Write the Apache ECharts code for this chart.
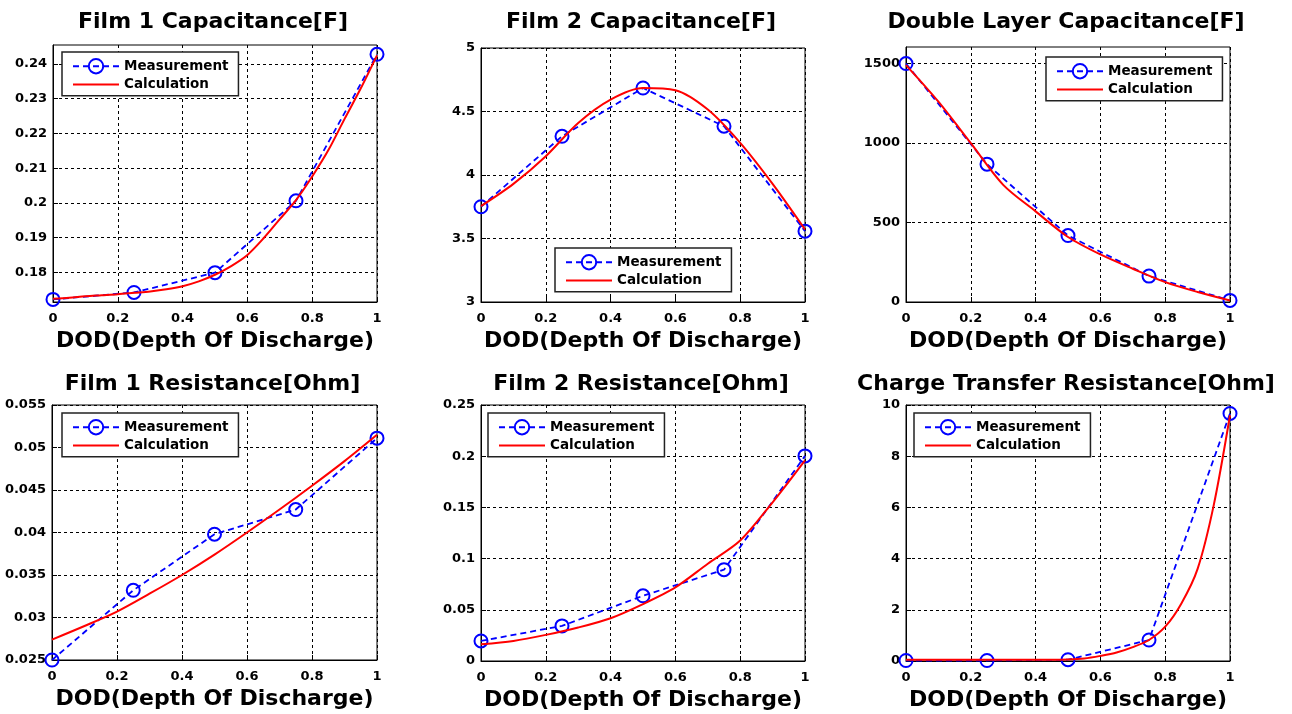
<!DOCTYPE html>
<html><head><meta charset="utf-8">
<script src="https://cdn.jsdelivr.net/npm/echarts@6/dist/echarts.min.js"></script>
<style>html,body{margin:0;padding:0;background:#fff}#c{width:1292px;height:714px}</style>
</head><body><div id="c"></div>
<script>
// ---- data ----
const dod = [0, 0.25, 0.5, 0.75, 1];
const xTicks = [0, 0.2, 0.4, 0.6, 0.8, 1];
const calcX = [0, 0.1, 0.2, 0.3, 0.4, 0.5, 0.6, 0.7, 0.8, 0.9, 1];
const calcXFine = [0, 0.05, 0.1, 0.15, 0.2, 0.25, 0.3, 0.35, 0.4, 0.45, 0.5, 0.55, 0.6, 0.65, 0.7, 0.75, 0.8, 0.85, 0.9, 0.95, 1];

const film1CapMeas = [0.1722, 0.1742, 0.1799, 0.2006, 0.2428];
const film1CapCalc = [0.1724, 0.1727, 0.1731, 0.1734, 0.1737, 0.1741, 0.1745, 0.1751, 0.1760, 0.1774, 0.1793, 0.1818, 0.1850, 0.1898, 0.1953, 0.2008, 0.2076, 0.2152, 0.2242, 0.2330, 0.2425];
const film1CapTicks = [0.18, 0.19, 0.2, 0.21, 0.22, 0.23, 0.24];

const film2CapMeas = [3.75, 4.305, 4.685, 4.384, 3.558];
const film2CapCalc = [3.755, 3.93, 4.148, 4.41, 4.594, 4.685, 4.667, 4.515, 4.253, 3.93, 3.571];
const film2CapTicks = [3, 3.5, 4, 4.5, 5];

const dlCapMeas = [1500, 867, 418, 163, 10];
const dlCapCalc = [1490, 1260, 999, 737, 570, 409, 299, 209, 125, 63, 10];
const dlCapTicks = [0, 500, 1000, 1500];

const film1ResMeas = [0.0250, 0.0332, 0.0398, 0.0427, 0.0511];
const film1ResCalc = [0.0274, 0.0290, 0.0307, 0.0328, 0.0350, 0.0374, 0.0400, 0.0427, 0.0455, 0.0484, 0.0515];
const film1ResTicks = [0.025, 0.03, 0.035, 0.04, 0.045, 0.05, 0.055];

const film2ResMeas = [0.0196, 0.0343, 0.0637, 0.0892, 0.2003];
const film2ResCalc = [0.0163, 0.0196, 0.0255, 0.0327, 0.0418, 0.0556, 0.0719, 0.0950, 0.1176, 0.1550, 0.1960];
const film2ResTicks = [0, 0.05, 0.1, 0.15, 0.2, 0.25];

const ctResMeas = [0.02, 0.02, 0.05, 0.82, 9.67];
const ctResCalc = [0.05, 0.05, 0.05, 0.05, 0.05, 0.05, 0.05, 0.05, 0.05, 0.05, 0.06, 0.1, 0.2, 0.33, 0.54, 0.82, 1.34, 2.25, 3.6, 6.1, 9.6];
const ctResTicks = [0, 2, 4, 6, 8, 10];

const titles = ['Film 1 Capacitance[F]', 'Film 2 Capacitance[F]', 'Double Layer Capacitance[F]',
  'Film 1 Resistance[Ohm]', 'Film 2 Resistance[Ohm]', 'Charge Transfer Resistance[Ohm]'];
const xName = 'DOD(Depth Of Discharge)';

// ---- layout ----
const FONT = 'DejaVu Sans';
const panels = [
  {meas: film1CapMeas, cx: calcXFine, cy: film1CapCalc, ticks: film1CapTicks, min: 0.17145, max: 0.24547,
   grid: {left: 53, top: 45, width: 324, height: 257}, legend: {left: 62, top: 52}},
  {meas: film2CapMeas, cx: calcX, cy: film2CapCalc, ticks: film2CapTicks, min: 3, max: 5,
   grid: {left: 481, top: 48, width: 324, height: 254}, legend: {left: 555, top: 248}},
  {meas: dlCapMeas, cx: calcX, cy: dlCapCalc, ticks: dlCapTicks, min: 0, max: 1604,
   grid: {left: 906, top: 47, width: 324, height: 255}, legend: {left: 1046, top: 57}},
  {meas: film1ResMeas, cx: calcX, cy: film1ResCalc, ticks: film1ResTicks, min: 0.025, max: 0.055,
   grid: {left: 52, top: 405, width: 325, height: 255}, legend: {left: 62, top: 413}},
  {meas: film2ResMeas, cx: calcX, cy: film2ResCalc, ticks: film2ResTicks, min: 0, max: 0.25,
   grid: {left: 481, top: 405, width: 324, height: 256}, legend: {left: 488, top: 413}},
  {meas: ctResMeas, cx: calcXFine, cy: ctResCalc, ticks: ctResTicks, min: 0, max: 10,
   grid: {left: 906, top: 405, width: 324, height: 256}, legend: {left: 914, top: 413}}
];

const fmt = v => String(parseFloat(Number(v).toFixed(4)));
const gridLine = {show: true, lineStyle: {color: '#000', width: 1, type: [3, 3]}};
const tickStyle = {show: true, inside: true, length: 5, lineStyle: {color: '#000', width: 1}};
const labelStyle = {color: '#000', fontFamily: FONT, fontWeight: 'bold', fontSize: 13, formatter: fmt};

const option = {
  animation: false,
  backgroundColor: '#fff',
  title: [], grid: [], xAxis: [], yAxis: [], legend: [], series: []
};

panels.forEach((p, i) => {
  const g = p.grid;
  option.grid.push({left: g.left, top: g.top, width: g.width, height: g.height,
    show: true, borderColor: '#000', borderWidth: 1, backgroundColor: '#fff'});
  option.title.push({text: titles[i], left: g.left + g.width / 2 - 2, top: i < 3 ? 11 : 373,
    textAlign: 'center', padding: 0,
    textStyle: {fontFamily: FONT, fontWeight: 'bold', fontSize: 22, color: '#000'}});
  option.xAxis.push({type: 'value', gridIndex: i, min: 0, max: 1,
    axisLine: {show: true, lineStyle: {color: '#000', width: 1}},
    axisTick: Object.assign({customValues: xTicks}, tickStyle),
    axisLabel: Object.assign({customValues: xTicks, margin: 10}, labelStyle),
    splitLine: gridLine,
    name: xName, nameLocation: 'middle', nameGap: 28,
    nameTextStyle: {fontFamily: FONT, fontWeight: 'bold', fontSize: 22, color: '#000'}});
  option.yAxis.push({type: 'value', gridIndex: i, min: p.min, max: p.max,
    axisLine: {show: true, lineStyle: {color: '#000', width: 1}},
    axisTick: Object.assign({customValues: p.ticks}, tickStyle),
    axisLabel: Object.assign({customValues: p.ticks, margin: 6}, labelStyle),
    splitLine: gridLine});
  option.legend.push({left: p.legend.left, top: p.legend.top, orient: 'vertical',
    padding: [6, 10, 4, 10], itemGap: 3, itemWidth: 46, itemHeight: 18,
    backgroundColor: '#fff', borderColor: '#222', borderWidth: 1.5, borderRadius: 0,
    selectedMode: false,
    textStyle: {fontFamily: FONT, fontWeight: 'bold', fontSize: 13.5, color: '#000'},
    data: [{name: 'Measurement'}, {name: 'Calculation', itemStyle: {opacity: 0}}]});
  option.series.push({name: 'Measurement', type: 'line', xAxisIndex: i, yAxisIndex: i,
    data: dod.map((x, k) => [x, p.meas[k]]),
    symbol: 'circle', symbolSize: 13, z: 3,
    itemStyle: {color: 'rgba(0,0,0,0)', borderColor: '#0000ff', borderWidth: 2},
    lineStyle: {color: '#0000ff', width: 1.8, type: [6, 4]}});
  option.series.push({name: 'Calculation', type: 'line', xAxisIndex: i, yAxisIndex: i,
    data: p.cx.map((x, k) => [x, p.cy[k]]),
    symbol: 'none', smooth: 0.3, z: 4,
    itemStyle: {color: '#ff0000'},
    lineStyle: {color: '#ff0000', width: 2}});
});

const chart = echarts.init(document.getElementById('c'), null, {renderer: 'canvas'});
chart.setOption(option);
</script>
</body></html>
